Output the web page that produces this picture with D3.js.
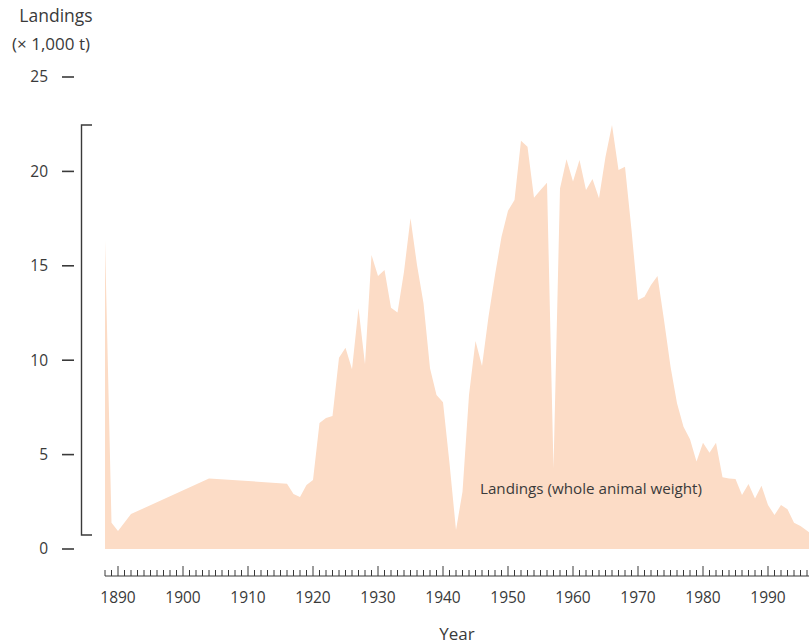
<!DOCTYPE html>
<html>
<head>
<meta charset="utf-8">
<script src="https://cdn.jsdelivr.net/npm/d3@7"></script>
<style>
  html, body { margin: 0; padding: 0; background: #fff; }
  svg { display: block; font-family: "Open Sans", "Liberation Sans", sans-serif; }
</style>
</head>
<body>
<svg id="chart" width="809" height="644"></svg>
<script>
// ---- data ----
const years = [1888, 1889, 1890, 1892, 1904, 1916, 1917, 1918, 1919, 1920,
  1921, 1922, 1923, 1924, 1925, 1926, 1927, 1928, 1929, 1930,
  1931, 1932, 1933, 1934, 1935, 1936, 1937, 1938, 1939, 1940,
  1941, 1942, 1943, 1944, 1945, 1946, 1947, 1948, 1949, 1950,
  1951, 1952, 1953, 1954, 1955, 1956, 1957, 1958, 1959, 1960,
  1961, 1962, 1963, 1964, 1965, 1966, 1967, 1968, 1969, 1970,
  1971, 1972, 1973, 1974, 1975, 1976, 1977, 1978, 1979, 1980,
  1981, 1982, 1983, 1984, 1985, 1986, 1987, 1988, 1989, 1990,
  1991, 1992, 1993, 1994, 1995, 1996, 1997];
const landings = [16.35, 1.39, 0.95, 1.85, 3.74, 3.46, 2.91, 2.75, 3.39, 3.65,
  6.67, 6.94, 7.04, 10.13, 10.66, 9.52, 12.75, 9.78, 15.57, 14.46,
  14.78, 12.78, 12.52, 14.69, 17.52, 15.04, 13.01, 9.57, 8.16, 7.77,
  4.54, 1.01, 3.03, 8.16, 11.02, 9.69, 12.30, 14.51, 16.54, 17.92,
  18.49, 21.63, 21.31, 18.61, 19.01, 19.40, 4.27, 19.10, 20.64, 19.46,
  20.60, 19.01, 19.60, 18.58, 20.78, 22.46, 20.07, 20.25, 16.9, 13.19,
  13.36, 13.98, 14.46, 12.13, 9.66, 7.72, 6.48, 5.81, 4.63, 5.63,
  5.10, 5.63, 3.80, 3.74, 3.71, 2.86, 3.44, 2.68, 3.35, 2.33,
  1.80, 2.33, 2.10, 1.39, 1.22, 0.97, 0.68];
const yTickValues = [0, 5, 10, 15, 20, 25];
const xLabelYears = [1890, 1900, 1910, 1920, 1930, 1940, 1950, 1960, 1970, 1980, 1990];
const xTickYears = d3.range(1888, 1997);
const bracketRange = [0.74, 22.46];
const yTitle = ["Landings", "(\u00d7 1,000 t)"];
const xTitle = "Year";
const seriesLabel = "Landings (whole animal weight)";

// ---- drawing ----
const svg = d3.select("#chart");
const x = d3.scaleLinear().domain([1890, 1990]).range([118, 768]);
const y = d3.scaleLinear().domain([0, 25]).range([549, 77]);
const ink = "#3a3a3a";

const data = years.map((yr, i) => ({ year: yr, value: landings[i] }));

const area = d3.area()
  .x(d => x(d.year))
  .y0(y(0))
  .y1(d => y(d.value));

svg.append("path")
  .datum(data)
  .attr("d", area)
  .attr("fill", "#fcdcc6");

// y title
svg.append("text")
  .attr("x", 56).attr("y", 22)
  .attr("text-anchor", "middle")
  .attr("font-size", 17.5).attr("fill", ink)
  .text(yTitle[0]);
svg.append("text")
  .attr("x", 51).attr("y", 50)
  .attr("text-anchor", "middle")
  .attr("font-size", 17).attr("fill", ink)
  .text(yTitle[1]);

// y ticks
const yt = svg.append("g").selectAll("g").data(yTickValues).join("g")
  .attr("transform", d => `translate(0,${y(d)})`);
yt.append("line")
  .attr("x1", 62).attr("x2", 74)
  .attr("stroke", ink).attr("stroke-width", 1.6);
yt.append("text")
  .attr("x", 48).attr("dy", "0.35em")
  .attr("text-anchor", "end")
  .attr("font-size", 15.5).attr("fill", ink)
  .text(d => d);

// bracket
const bTop = y(bracketRange[1]), bBot = y(bracketRange[0]);
svg.append("path")
  .attr("d", `M92,${bTop}H81.5V${bBot}H92`)
  .attr("fill", "none").attr("stroke", ink).attr("stroke-width", 1.4);

// x axis
const axisY = 576;
svg.append("line")
  .attr("x1", x(1888)).attr("x2", 809)
  .attr("y1", axisY).attr("y2", axisY)
  .attr("stroke", ink).attr("stroke-width", 1.2);
svg.append("g").selectAll("line").data(xTickYears).join("line")
  .attr("x1", d => x(d)).attr("x2", d => x(d))
  .attr("y1", axisY)
  .attr("y2", d => d % 10 === 0 ? axisY - 10 : axisY - 6)
  .attr("stroke", ink).attr("stroke-width", 1);
svg.append("g").selectAll("text").data(xLabelYears).join("text")
  .attr("x", d => x(d)).attr("y", 603)
  .attr("text-anchor", "middle")
  .attr("font-size", 15.5).attr("fill", ink)
  .text(d => d);

svg.append("text")
  .attr("x", 457).attr("y", 640)
  .attr("text-anchor", "middle")
  .attr("font-size", 17).attr("fill", ink)
  .text(xTitle);

// series label
svg.append("text")
  .attr("x", 480).attr("y", 494)
  .attr("font-size", 15.2).attr("fill", ink)
  .text(seriesLabel);
</script>
</body>
</html>
